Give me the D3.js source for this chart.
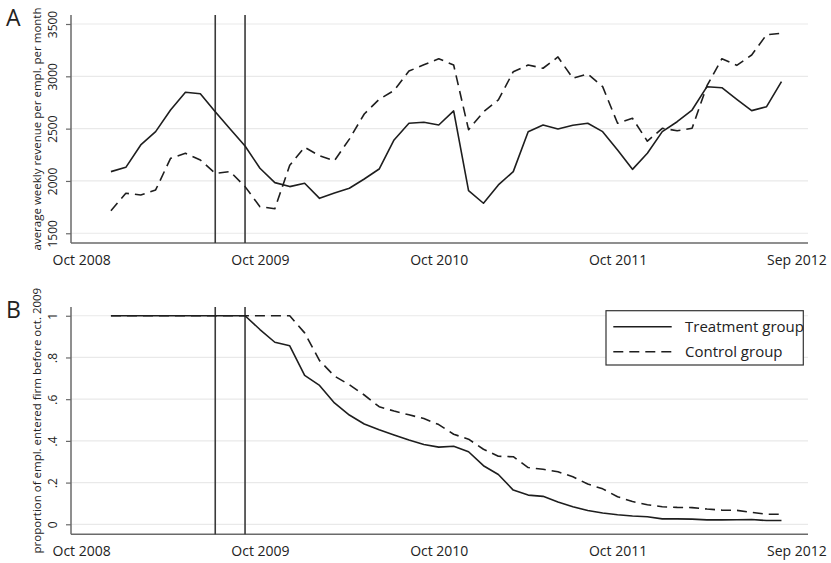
<!DOCTYPE html>
<html>
<head>
<meta charset="utf-8">
<script src="https://cdn.jsdelivr.net/npm/d3@7"></script>
<style>
  body { margin: 0; background: #fff; }
  text { font-family: "Open Sans", "Noto Sans", sans-serif; fill: #222; }
</style>
</head>
<body>
<svg id="chart" width="831" height="563"></svg>
<script>
// Months counted from Oct 2008 (0); observations run Dec 2008 (2) to Sep 2012 (47)
const months = d3.range(2, 48);

// Panel A: average weekly revenue per employee, by month
const revenueTreatment = [
  2089, 2130, 2344, 2471, 2678, 2847, 2834, 2662, 2497, 2334,
  2121, 1984, 1946, 1978, 1834, 1885, 1930, 2019, 2114, 2392,
  2551, 2561, 2535, 2669, 1907, 1787, 1962, 2089, 2471, 2535,
  2497, 2532, 2551, 2471, 2296, 2111, 2264, 2471, 2566, 2678,
  2901, 2891, 2780, 2672, 2710, 2949
];
const revenueControl = [
  1716, 1882, 1866, 1914, 2216, 2264, 2200, 2073, 2089, 1946,
  1754, 1735, 2150, 2322, 2240, 2194, 2400, 2640, 2780, 2865,
  3050, 3110, 3168, 3108, 2490, 2660, 2774, 3044, 3108, 3077,
  3185, 2981, 3022, 2901, 2551, 2599, 2380, 2503, 2480, 2503,
  2910, 3168, 3105, 3204, 3398, 3411
];

// Panel B: share of employees hired before Oct 2009 still with the firm
const stayTreatment = [
  1, 1, 1, 1, 1, 1, 1, 1, 1, 1,
  0.934, 0.873, 0.856, 0.714, 0.666, 0.582, 0.524, 0.481, 0.453, 0.428,
  0.404, 0.383, 0.370, 0.374, 0.348, 0.281, 0.239, 0.164, 0.140, 0.134,
  0.107, 0.084, 0.066, 0.054, 0.046, 0.040, 0.036, 0.026, 0.026, 0.025,
  0.021, 0.021, 0.022, 0.023, 0.018, 0.018
];
const stayControl = [
  1, 1, 1, 1, 1, 1, 1, 1, 1, 1,
  1, 1, 1, 0.918, 0.785, 0.711, 0.669, 0.620, 0.564, 0.543,
  0.525, 0.507, 0.478, 0.432, 0.408, 0.360, 0.326, 0.324, 0.272, 0.264,
  0.252, 0.228, 0.193, 0.170, 0.132, 0.109, 0.094, 0.084, 0.081, 0.080,
  0.073, 0.068, 0.067, 0.057, 0.048, 0.048
];

const tickMonths = [0, 12, 24, 36, 48];
const tickLabels = ["Oct 2008", "Oct 2009", "Oct 2010", "Oct 2011", "Sep 2012"];
const eventMonths = [9, 11];

const revenueTicks = [1500, 2000, 2500, 3000, 3500];
const shareTicks = [0, 0.2, 0.4, 0.6, 0.8, 1];
const shareTickLabels = ["0", ".2", ".4", ".6", ".8", "1"];

const seriesNames = ["Treatment group", "Control group"];
const seriesDash = [null, "10,6"];

const svg = d3.select("#chart");
const left = 71, right = 808;

const x = d3.scaleLinear().domain([-0.68, 48.78]).range([left, right]);

function panel(opts) {
  const { top, bottom, y, ticks, tickFormat, title, letter, series } = opts;
  const g = svg.append("g");

  // horizontal grid
  g.append("g").selectAll("line").data(ticks).join("line")
    .attr("x1", left).attr("x2", right)
    .attr("y1", d => y(d)).attr("y2", d => y(d))
    .attr("stroke", "#e9e9e9").attr("stroke-width", 1.2);

  // y axis with vertical tick labels
  const ay = g.append("g").attr("transform", `translate(${left},0)`)
    .call(d3.axisLeft(y).tickValues(ticks).tickFormat(tickFormat).tickSize(5).tickSizeOuter(0));
  ay.select(".domain").attr("stroke", "#6a6a6a").attr("stroke-width", 1.5)
    .attr("d", `M0,${top}V${bottom}`);
  ay.selectAll(".tick line").attr("stroke", "#6a6a6a").attr("stroke-width", 1.2);
  ay.selectAll(".tick text")
    .attr("transform", "rotate(-90)")
    .attr("x", 0).attr("y", -14.5).attr("dy", null)
    .attr("text-anchor", "middle")
    .style("font-size", "12px").style("font-family", "'Open Sans', sans-serif").attr("fill", "#222");

  // x axis: baseline and month labels
  const ax = g.append("g").attr("transform", `translate(0,${bottom})`)
    .call(d3.axisBottom(x).tickValues(tickMonths).tickFormat((d, i) => tickLabels[i]).tickSize(0).tickSizeOuter(0));
  ax.select(".domain").attr("stroke", "#6a6a6a").attr("stroke-width", 1.5)
    .attr("d", `M${left},0H${right}`);
  ax.selectAll(".tick text").attr("y", 22).attr("dy", null)
    .style("font-size", "14px").style("font-family", "'Open Sans', sans-serif").attr("fill", "#222");

  // event markers
  g.append("g").selectAll("line").data(eventMonths).join("line")
    .attr("x1", d => x(d)).attr("x2", d => x(d))
    .attr("y1", top).attr("y2", bottom)
    .attr("stroke", "#3a3a3a").attr("stroke-width", 1.6);

  // series
  const line = d3.line().x((d, i) => x(months[i])).y(d => y(d));
  series.forEach((vals, k) => {
    g.append("path").datum(vals)
      .attr("d", line)
      .attr("fill", "none")
      .attr("stroke", "#1e1e1e")
      .attr("stroke-width", 1.6)
      .attr("stroke-linejoin", "round")
      .attr("stroke-dasharray", seriesDash[k]);
  });

  // axis title
  g.append("text")
    .attr("transform", `translate(41,${(top + bottom) / 2}) rotate(-90)`)
    .attr("text-anchor", "middle")
    .style("font-size", "11.5px")
    .text(title);

  // panel letter
  g.append("text")
    .attr("x", 6).attr("y", top + 11)
    .style("font-size", "23px")
    .text(letter);
}

panel({
  top: 15, bottom: 243,
  y: d3.scaleLinear().domain([1407, 3586]).range([243, 15]),
  ticks: revenueTicks,
  tickFormat: d3.format("d"),
  title: "average weekly revenue per empl. per month",
  letter: "A",
  series: [revenueTreatment, revenueControl]
});

panel({
  top: 307, bottom: 534.3,
  y: d3.scaleLinear().domain([-0.048, 1.042]).range([534.3, 307]),
  ticks: shareTicks,
  tickFormat: (d, i) => shareTickLabels[i],
  title: "proportion of empl. entered firm before oct. 2009",
  letter: "B",
  series: [stayTreatment, stayControl]
});

// legend
const lg = svg.append("g");
lg.append("rect")
  .attr("x", 606).attr("y", 310.7).attr("width", 197.3).attr("height", 54.3)
  .attr("fill", "#fff").attr("stroke", "#333").attr("stroke-width", 1.2);
seriesNames.forEach((name, k) => {
  const yy = 326.7 + k * 25;
  lg.append("line")
    .attr("x1", 613.3).attr("x2", 671.7).attr("y1", yy).attr("y2", yy)
    .attr("stroke", "#1e1e1e").attr("stroke-width", 1.6)
    .attr("stroke-dasharray", seriesDash[k]);
  lg.append("text")
    .attr("x", 685).attr("y", yy + 5.5)
    .style("font-size", "15px")
    .text(name);
});
</script>
</body>
</html>
